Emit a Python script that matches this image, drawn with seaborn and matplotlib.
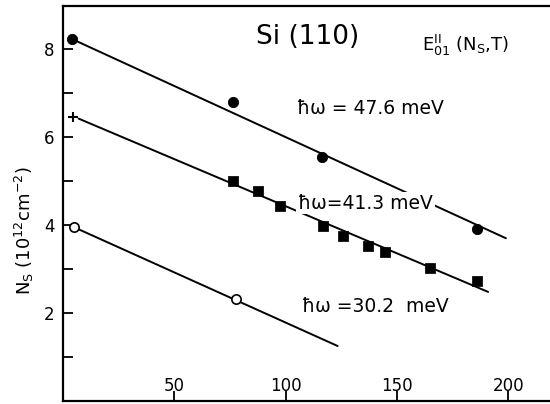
import matplotlib
matplotlib.use("Agg")
import matplotlib.pyplot as plt
import seaborn as sns
import pandas as pd

# ---- data ----
circ_x = [4, 76.5, 116.5, 186]
circ_y = [8.23, 6.8, 5.55, 3.9]
sq_x = [76.6, 87.4, 97.7, 116.7, 126, 137, 144.6, 164.9, 186]
sq_y = [5.0, 4.77, 4.43, 3.98, 3.75, 3.52, 3.39, 3.02, 2.73]
plus_x = [4.5]
plus_y = [6.45]
open_x = [5, 77.9]
open_y = [3.95, 2.32]

fit47_x = [4, 199]
fit47_y = [8.23, 3.7]
fit41_x = [7, 191]
fit41_y = [6.42, 2.48]
fit30_x = [5, 123.4]
fit30_y = [3.95, 1.25]

x_ticks = [50, 100, 150, 200]
y_major = [2, 4, 6, 8]
y_minor = [1, 3, 5, 7]

sns.set_theme(style="white")
plt.rcParams['font.family'] = ['DejaVu Sans']
plt.rcParams['text.color'] = 'black'
plt.rcParams['axes.labelcolor'] = 'black'
plt.rcParams['xtick.color'] = 'black'
plt.rcParams['ytick.color'] = 'black'

fig = plt.figure(figsize=(5.5, 4.04), dpi=100)
ax = fig.add_axes([63/550, 3/404, 487/550, 395/404])

for fx, fy in [(fit47_x, fit47_y), (fit41_x, fit41_y), (fit30_x, fit30_y)]:
    sns.lineplot(x=fx, y=fy, ax=ax, color='black', lw=1.4, zorder=2)

sns.scatterplot(x=circ_x, y=circ_y, ax=ax, marker='o', s=55, color='black',
                edgecolor='black', zorder=4)
sns.scatterplot(x=sq_x, y=sq_y, ax=ax, marker='s', s=45, color='black',
                edgecolor='black', zorder=4)
sns.scatterplot(x=plus_x, y=plus_y, ax=ax, marker='+', s=45, color='black',
                linewidth=1.5, zorder=4)
sns.scatterplot(x=open_x, y=open_y, ax=ax, marker='o', s=45, facecolor='white',
                edgecolor='black', linewidth=1.2, zorder=4)

ax.set_xlim(0, 218.8)
ax.set_ylim(0, 8.98)

ax.set_xticks(x_ticks)
ax.set_xticklabels([str(v) for v in x_ticks])
ax.set_yticks(y_major)
ax.set_yticklabels([str(v) for v in y_major])
ax.set_yticks(y_minor, minor=True)

ax.tick_params(axis='x', direction='in', length=7, width=1.3, pad=-17,
               labelsize=12, bottom=True, colors='black')
ax.tick_params(axis='y', which='both', direction='in', length=7, width=1.3,
               pad=6, labelsize=12, left=True, colors='black')

for s in ['left', 'bottom', 'top']:
    ax.spines[s].set_visible(True)
    ax.spines[s].set_color('black')
    ax.spines[s].set_linewidth(1.6)
ax.spines['right'].set_visible(False)

ax.set_ylabel(r'N$_\mathregular{S}$ (10$^\mathregular{12}$cm$^\mathregular{-2}$)',
              fontsize=13, color='black')
ax.yaxis.set_label_coords(-0.056, 0.43)
ax.set_xlabel('')

ax.text(109.9, 8.27, 'Si (110)', fontsize=19, ha='center', va='center')
ax.text(180.8, 8.09, r'E$^{\mathregular{II}}_{\mathregular{01}}$ (N$_\mathregular{S}$,T)',
        fontsize=13, ha='center', va='center')

bb = dict(boxstyle='square,pad=0.1', facecolor='white', edgecolor='none')
ax.text(138.2, 6.66, 'ħω = 47.6 meV', fontsize=13.5, ha='center', va='center',
        bbox=bb, zorder=5)
ax.text(136.0, 4.5, 'ħω=41.3 meV', fontsize=13.5, ha='center', va='center',
        bbox=bb, zorder=5)
ax.text(140.4, 2.14, 'ħω =30.2  meV', fontsize=13.5, ha='center', va='center',
        bbox=bb, zorder=5)

fig.savefig('out.png', dpi=100)
